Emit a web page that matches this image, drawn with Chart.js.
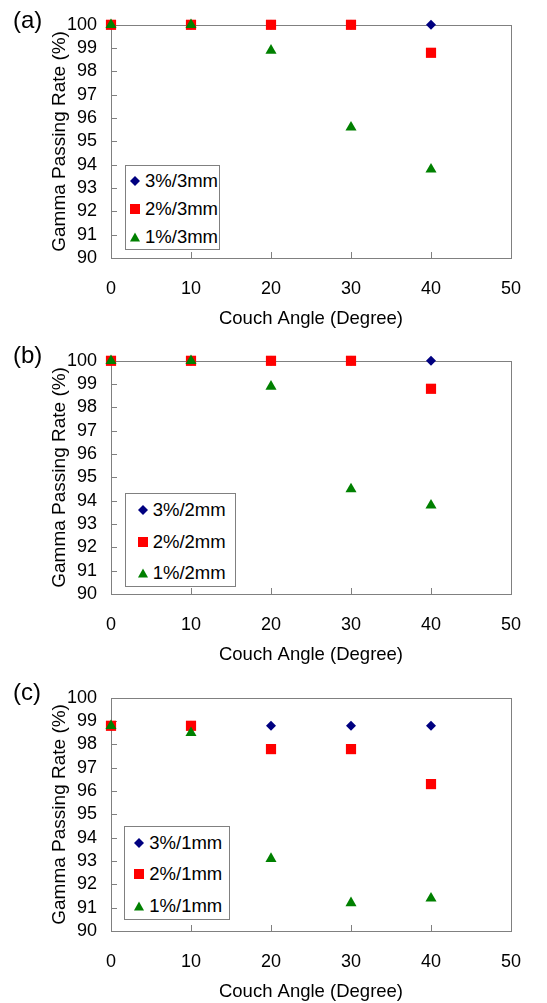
<!DOCTYPE html>
<html>
<head>
<meta charset="utf-8">
<script src="https://cdn.jsdelivr.net/npm/chart.js@4"></script>
<style>
  body { margin: 0; background: #fff; width: 547px; height: 1003px; position: relative; overflow: hidden; }
  .panel { position: absolute; left: 0; width: 547px; height: 330px; }
  .tag { position: absolute; left: 13px; font: 24px "Liberation Sans", Arial, sans-serif; line-height: 24px; }
  .legend { position: absolute; border: 1px solid #808080; background: #fff; box-sizing: border-box;
            font: 18.5px "Liberation Sans", Arial, sans-serif; }
  .row { position: absolute; height: 22px; display: flex; align-items: center; white-space: nowrap; }
  .row svg { margin-right: 4px; }
</style>
</head>
<body>
<div class="panel" id="pa" style="top:0px"><canvas id="chartA"></canvas></div>
<div class="panel" id="pb" style="top:336px"><canvas id="chartB"></canvas></div>
<div class="panel" id="pc" style="top:673px"><canvas id="chartC"></canvas></div>

<script>
//Data
const couchAngle = [0, 10, 20, 30, 40]
const xTicks = [0, 10, 20, 30, 40, 50]
const yTicks = [90, 91, 92, 93, 94, 95, 96, 97, 98, 99, 100]

const namesA = ['3%/3mm', '2%/3mm', '1%/3mm']
const a3pct = [100, 100, 100, 100, 100]
const a2pct = [100, 100, 100, 100, 98.8]
const a1pct = [100, 100, 98.9, 95.6, 93.8]

const namesB = ['3%/2mm', '2%/2mm', '1%/2mm']
const b3pct = [100, 100, 100, 100, 100]
const b2pct = [100, 100, 100, 100, 98.8]
const b1pct = [100, 100, 98.9, 94.5, 93.8]

const namesC = ['3%/1mm', '2%/1mm', '1%/1mm']
const c3pct = [98.8, 98.8, 98.8, 98.8, 98.8]
const c2pct = [98.8, 98.8, 97.8, 97.8, 96.3]
const c1pct = [98.8, 98.5, 93.1, 91.2, 91.4]

//Styles
const FONT = '"Liberation Sans", Arial, sans-serif'
const GRAY = '#808080'
const markers = [
  { style: 'rectRot', color: '#000080', radius: 5 },
  { style: 'rect', color: '#ff0000', radius: 7.2 },
  { style: 'triangle', color: '#008000', radius: 6.4 },
]
const markerSvg = [
  '<svg width="12" height="12"><polygon points="6,1 11,6 6,11 1,6" fill="#000080"/></svg>',
  '<svg width="12" height="12"><rect x="1" y="1" width="10" height="10" fill="#ff0000"/></svg>',
  '<svg width="12" height="12"><polygon points="6,1.5 11,10.5 1,10.5" fill="#008000"/></svg>',
]

//Frame and inward tick marks
const framePlugin = {
  id: 'frame',
  beforeDatasetsDraw(chart) {
    const { ctx, chartArea: a, scales } = chart
    ctx.save()
    ctx.strokeStyle = GRAY
    ctx.lineWidth = 1
    ctx.strokeRect(Math.round(a.left) + 0.5, Math.round(a.top) + 0.5,
      Math.round(a.right - a.left), Math.round(a.bottom - a.top))
    ctx.beginPath()
    scales.y.ticks.forEach(t => {
      const py = Math.round(scales.y.getPixelForValue(t.value)) + 0.5
      ctx.moveTo(a.left, py); ctx.lineTo(a.left + 6, py)
    })
    scales.x.ticks.forEach(t => {
      const px = Math.round(scales.x.getPixelForValue(t.value)) + 0.5
      ctx.moveTo(px, a.bottom); ctx.lineTo(px, a.bottom - 6)
    })
    ctx.stroke()
    ctx.restore()
  }
}

function makeChart(id, series) {
  const datasets = series.map((vals, i) => ({
    data: vals.map((v, j) => ({ x: couchAngle[j], y: v })),
    pointStyle: markers[i].style,
    pointRadius: markers[i].radius,
    pointHoverRadius: markers[i].radius,
    backgroundColor: markers[i].color,
    borderColor: markers[i].color,
    pointBorderWidth: 0,
    showLine: false,
    clip: false,
    order: 3 - i,
  }))
  return new Chart(document.getElementById(id), {
    type: 'scatter',
    data: { datasets },
    plugins: [framePlugin],
    options: {
      responsive: true,
      maintainAspectRatio: false,
      animation: false,
      layout: { padding: { top: 20, right: 36, left: 0, bottom: 0 } },
      plugins: { legend: { display: false }, tooltip: { enabled: false } },
      scales: {
        x: {
          type: 'linear', min: 0, max: 50,
          afterBuildTicks: s => { s.ticks = xTicks.map(v => ({ value: v })) },
          grid: { display: false, drawTicks: false },
          border: { display: false },
          ticks: { color: '#000', font: { family: FONT, size: 18 }, padding: 20, autoSkip: false, maxRotation: 0 },
          title: { display: true, text: 'Couch Angle (Degree)', color: '#000',
                   font: { family: FONT, size: 18.5 }, padding: { top: 0, bottom: 0 } },
          afterFit: s => { s.height = 72 },
        },
        y: {
          type: 'linear', min: 90, max: 100,
          afterBuildTicks: s => { s.ticks = yTicks.map(v => ({ value: v })) },
          grid: { display: false, drawTicks: false },
          border: { display: false },
          ticks: { color: '#000', font: { family: FONT, size: 18 }, padding: 14, autoSkip: false },
          title: { display: true, text: 'Gamma Passing Rate (%)', color: '#000',
                   font: { family: FONT, size: 19 }, padding: { top: 48, bottom: 0 } },
          afterFit: s => { s.width = 111 },
        },
      },
    },
  })
}

//Panel tag and legend box (html so text stays text)
function addDecor(panelId, tag, tagTop, names, box) {
  const panel = document.getElementById(panelId)
  const t = document.createElement('div')
  t.className = 'tag'
  t.style.top = tagTop + 'px'
  t.textContent = tag
  panel.appendChild(t)

  const lg = document.createElement('div')
  lg.className = 'legend'
  lg.style.left = box.left + 'px'
  lg.style.top = box.top + 'px'
  lg.style.width = box.width + 'px'
  lg.style.height = box.height + 'px'
  names.forEach((n, i) => {
    const row = document.createElement('div')
    row.className = 'row'
    row.style.left = (box.mark - 7) + 'px'
    row.style.top = (box.rows[i] - 12) + 'px'
    row.innerHTML = markerSvg[i] + '<span>' + n + '</span>'
    lg.appendChild(row)
  })
  panel.appendChild(lg)
}

makeChart('chartA', [a3pct, a2pct, a1pct])
makeChart('chartB', [b3pct, b2pct, b1pct])
makeChart('chartC', [c3pct, c2pct, c1pct])

addDecor('pa', '(a)', 8, namesA, { left: 125, top: 165, width: 95, height: 85, mark: 10, rows: [16, 44, 72] })
addDecor('pb', '(b)', 7, namesB, { left: 125, top: 157, width: 111, height: 94, mark: 17.7, rows: [17, 48.7, 79.7] })
addDecor('pc', '(c)', 7, namesC, { left: 124, top: 153, width: 106, height: 94, mark: 15.3, rows: [16.7, 48.3, 80] })
</script>
</body>
</html>
